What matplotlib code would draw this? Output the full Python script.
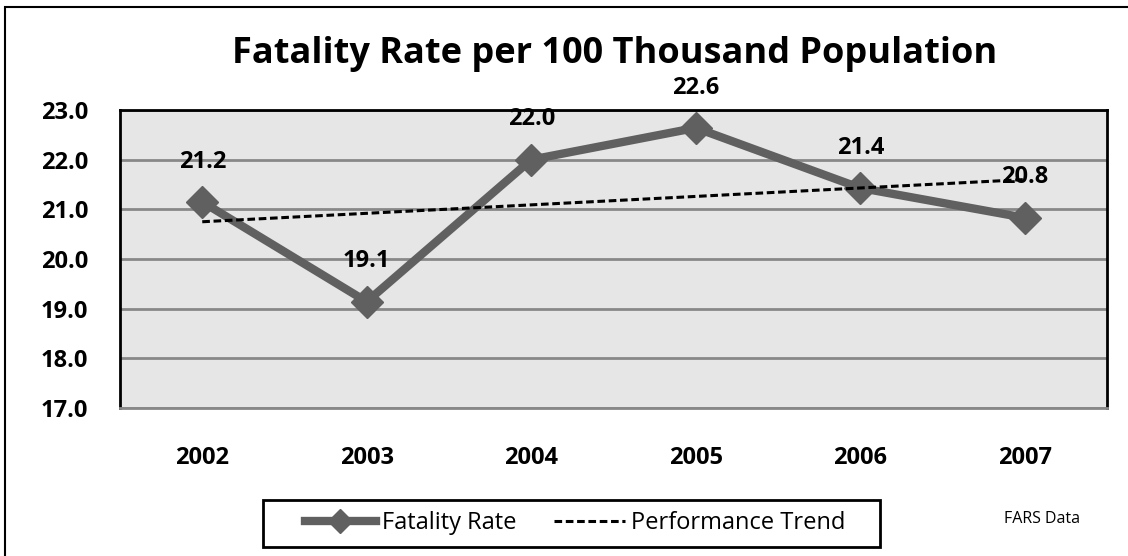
import matplotlib
matplotlib.use("Agg")
import matplotlib.pyplot as plt
from matplotlib.patches import Rectangle

plt.rcParams['font.family'] = ['Open Sans', 'DejaVu Sans']

# values
years = ["2002", "2003", "2004", "2005", "2006", "2007"]
fatality_rate = [21.15, 19.14, 22.0, 22.64, 21.43, 20.83]
rate_labels = ["21.2", "19.1", "22.0", "22.6", "21.4", "20.8"]
trend = [20.75, 20.92, 21.09, 21.26, 21.43, 21.60]
y_ticks = [17.0, 18.0, 19.0, 20.0, 21.0, 22.0, 23.0]

fig = plt.figure(figsize=(11.28, 5.56), dpi=100)
W, H = 1128.0, 556.0
ax = fig.add_axes([120 / W, 1 - 408 / H, (1107 - 120) / W, (408 - 110) / H])
ax.set_facecolor("#e6e6e6")

# outer chart border
fig.patches.append(Rectangle((5 / W, -0.05), 1.2, 1 - 7 / H + 0.05,
                             transform=fig.transFigure, fill=False,
                             edgecolor="black", linewidth=1.5))
# legend box (drawn by hand so its padding matches)
fig.patches.append(Rectangle((263 / W, 1 - 547 / H), (880 - 263) / W, 47 / H,
                             transform=fig.transFigure, fill=False,
                             edgecolor="black", linewidth=2))

x = list(range(len(years)))
ax.plot(x, fatality_rate, color="#606060", linewidth=6, marker="D",
        markersize=16, zorder=3, label="Fatality Rate")
ax.plot(x, trend, color="black", linewidth=2.2, linestyle=(0, (2.5, 1.2)),
        zorder=4, label="Performance Trend")

for xi, yi, lab in zip(x, fatality_rate, rate_labels):
    ax.annotate(lab, (xi, yi), xytext=(0, 29), textcoords="offset points",
                ha="center", va="center", fontsize=17, fontweight="bold",
                zorder=5)

ax.set_xlim(-0.5, 5.5)
ax.set_ylim(17, 23)
ax.set_yticks(y_ticks)
ax.set_yticklabels(["%.1f" % t for t in y_ticks])
ax.set_xticks(x)
ax.set_xticklabels(years)
ax.tick_params(axis="both", length=0, labelsize=17)
ax.tick_params(axis="y", pad=23)
ax.tick_params(axis="x", pad=27)
for lab in ax.get_xticklabels() + ax.get_yticklabels():
    lab.set_fontweight("bold")

ax.grid(axis="y", color="#888888", linewidth=2)
ax.set_axisbelow(True)
for side in ["left", "top", "right"]:
    ax.spines[side].set_color("black")
    ax.spines[side].set_linewidth(2)
ax.spines["bottom"].set_color("#888888")
ax.spines["bottom"].set_linewidth(2)

fig.text(615 / W, 1 - 63 / H, "Fatality Rate per 100 Thousand Population",
         ha="center", va="baseline", fontsize=26, fontweight="bold")

leg = fig.legend(loc="center", bbox_to_anchor=(575 / W, 1 - 523 / H), ncol=2,
                 fontsize=17, frameon=False, handlelength=3.0,
                 columnspacing=1.6, borderpad=0.2, handletextpad=0.25,
                 markerscale=0.75)

fig.text(1042 / W, 1 - 519 / H, "FARS Data", ha="center", va="center",
         fontsize=11.5)

fig.savefig("out.png", dpi=100)
